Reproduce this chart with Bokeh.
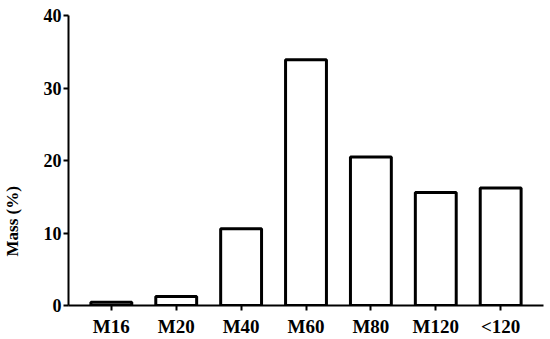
import math
from bokeh.plotting import figure
from bokeh.models import FactorRange, Range1d, FixedTicker, Title
from bokeh.embed import file_html
from bokeh.resources import INLINE

categories = ["M16", "M20", "M40", "M60", "M80", "M120", "<120"]
mass = [0.45, 1.25, 10.6, 33.9, 20.5, 15.6, 16.2]
y_ticks = [0, 10, 20, 30, 40]

FONT = "Liberation Serif"

p = figure(width=550, height=339, output_backend="svg", toolbar_location=None,
           x_range=FactorRange(factors=categories, range_padding=0.32 / 7),
           y_range=Range1d(0, 40),
           min_border_left=67, min_border_right=7, min_border_top=15,
           min_border_bottom=33)

p.vbar(x=categories, top=mass, width=0.63, bottom=0,
       fill_color="white", line_color="black", line_width=3)

p.outline_line_color = None
p.xgrid.grid_line_color = None
p.ygrid.grid_line_color = None

p.yaxis.ticker = FixedTicker(ticks=y_ticks)
p.yaxis.minor_tick_line_color = None
p.yaxis.axis_line_width = 2
p.yaxis.major_tick_line_width = 2
p.yaxis.major_tick_in = 0
p.yaxis.major_tick_out = 5
p.yaxis.major_label_standoff = 2
p.yaxis.major_label_text_font = FONT
p.yaxis.major_label_text_font_style = "bold"
p.yaxis.major_label_text_font_size = "18px"
p.yaxis.major_label_text_color = "black"

p.xaxis.axis_line_width = 2
p.xaxis.major_tick_line_width = 2
p.xaxis.major_tick_in = 0
p.xaxis.major_tick_out = 5
p.xaxis.major_label_standoff = 5
p.xaxis.major_label_text_font = FONT
p.xaxis.major_label_text_font_style = "bold"
p.xaxis.major_label_text_font_size = "19px"
p.xaxis.major_label_text_color = "black"

# spacer panel between the axis and the title
p.add_layout(Title(text=" ", text_font_size="1px", standoff=16), "left")
p.add_layout(Title(text="Mass (%)", align="left", offset=49,
                   text_font=FONT, text_font_style="bold",
                   text_font_size="17px", text_color="black",
                   standoff=0), "left")

open("out.html", "w").write(file_html(p, INLINE))
